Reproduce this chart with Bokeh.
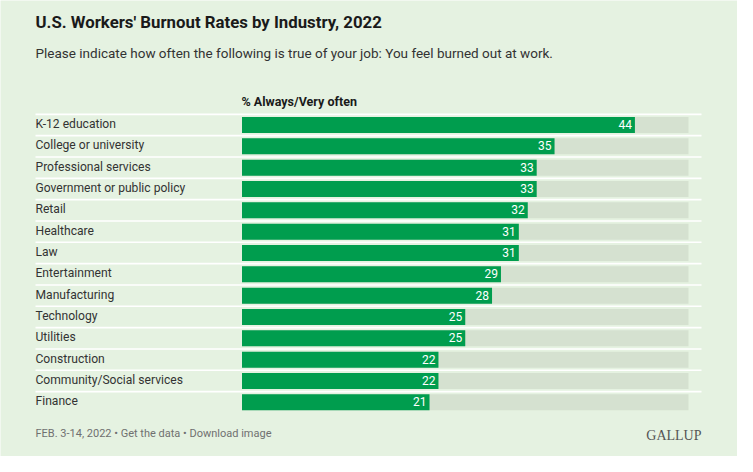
from bokeh.plotting import figure
from bokeh.models import Range1d, Label, ColumnDataSource
from bokeh.core.properties import value
from bokeh.embed import file_html
from bokeh.resources import INLINE

industries = ["K-12 education", "College or university", "Professional services",
              "Government or public policy", "Retail", "Healthcare", "Law",
              "Entertainment", "Manufacturing", "Technology", "Utilities",
              "Construction", "Community/Social services", "Finance"]
burnout = [44, 35, 33, 33, 32, 31, 31, 29, 28, 25, 25, 22, 22, 21]
scale_max = 50

title = "U.S. Workers' Burnout Rates by Industry, 2022"
subtitle = "Please indicate how often the following is true of your job: You feel burned out at work."
header = "% Always/Very often"
footer = "FEB. 3-14, 2022 \u2022 Get the data \u2022 Download image"
brand = "GALLUP"

BG = "#e5f2e1"
GREEN = "#009d4e"
REST = "#d5e1d0"
FONT = "Roboto"

W, H = 737, 456
ORIGIN = 241.5
PXU = 8.93
ROW0 = 124.5
PITCH = 21.33

p = figure(width=W, height=H, output_backend="svg", toolbar_location=None,
           x_range=Range1d(-ORIGIN / PXU, (W - ORIGIN) / PXU),
           y_range=Range1d((H - ROW0) / PITCH, -ROW0 / PITCH),
           min_border=0, outline_line_color=None,
           background_fill_color=BG, border_fill_color=BG)
p.axis.visible = False
p.grid.visible = False

rows = list(range(len(industries)))
src = ColumnDataSource(dict(y=rows, v=burnout, full=[scale_max] * len(rows),
                            name=industries, lab=[str(b) for b in burnout]))

# separators
sep_x0 = (35 - ORIGIN) / PXU
sep_x1 = (701 - ORIGIN) / PXU
p.segment(x0=sep_x0, x1=sep_x1, y0=[r - 0.5 for r in rows], y1=[r - 0.5 for r in rows],
          line_color="white", line_width=1.6)

p.hbar(y="y", left=0, right="full", height=0.75, source=src, fill_color=REST, line_color=None)
p.hbar(y="y", left=0, right="v", height=0.75, source=src, fill_color=GREEN, line_color=None)

p.text(x="v", y="y", text="lab", source=src, x_offset=-3, y_offset=-0.5, text_align="right",
       text_baseline="middle", text_color="white", text_font=value(FONT),
       text_font_size="12px")
p.text(x=sep_x0, y="y", text="name", source=src, y_offset=-1, text_align="left",
       text_baseline="middle", text_color="#333333", text_font=value(FONT),
       text_font_size="12.1px")

def lab(txt, x, y, size, style="normal", color="#222222", align="left", font=FONT):
    p.add_layout(Label(x=x, y=H - y, x_units="screen", y_units="screen", text=txt,
                       text_font=font, text_font_size=size, text_font_style=style,
                       text_color=color, text_align=align, text_baseline="alphabetic"))

lab(title, 35, 21, "16.8px", "bold", "#1a1a1a")
lab(subtitle, 35, 52, "13.5px", "normal", "#333333")
lab(header, 241, 101, "12.5px", "bold", "#1a1a1a")
lab(footer, 35, 433, "11px", "normal", "#707070")
lab(brand, 701, 435, "14px", "normal", "#555555", "right", "Liberation Serif")

open("out.html", "w").write(file_html(p, INLINE))
